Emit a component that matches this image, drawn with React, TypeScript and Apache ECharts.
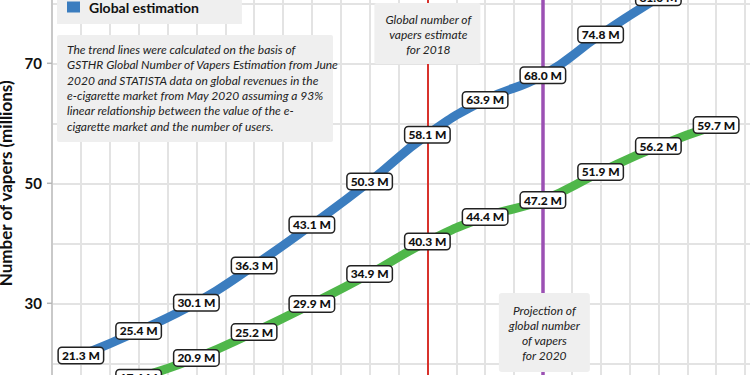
import React, { useEffect, useRef } from 'react';
import * as echarts from 'echarts';

// ---- data ----
const years = [2012, 2013, 2014, 2015, 2016, 2017, 2018, 2019, 2020, 2021, 2022, 2023];
const globalEstimation: (number | null)[] = [21.3, 25.4, 30.1, 36.3, 43.1, 50.3, 58.1, 63.9, 68.0, 74.8, 81.0, null];
const trendEstimation: (number | null)[] = [null, 17.6, 20.9, 25.2, 29.9, 34.9, 40.3, 44.4, 47.2, 51.9, 56.2, 59.7];
const estimateYear = 2018;
const projectionYear = 2020;
const yLabelValues = [30, 50, 70];

const noteText = [
  'The trend lines were calculated on the basis of',
  'GSTHR Global Number of Vapers Estimation from June',
  '2020 and STATISTA data on global revenues in the',
  'e-cigarette market from May 2020 assuming a 93%',
  'linear relationship between the value of the e-',
  'cigarette market and the number of users.',
];
const estimateNote = ['Global number of', 'vapers estimate', 'for 2018'];
const projectionNote = ['Projection of', 'global number', 'of vapers', 'for 2020'];

const FONT = 'Lato, "Open Sans", sans-serif';

function pairs(vals: (number | null)[]) {
  const out: [number, number][] = [];
  vals.forEach((v, i) => {
    if (v !== null) out.push([years[i], v]);
  });
  return out;
}

const pointLabel = {
  show: true,
  position: 'inside',
  formatter: (p: any) => p.value[1].toFixed(1) + ' M',
  color: '#111',
  fontFamily: FONT,
  fontWeight: 900,
  fontSize: 12,
  lineHeight: 12,
  backgroundColor: '#fff',
  borderColor: '#222',
  borderWidth: 1.5,
  borderRadius: 3,
  padding: [2, 3, 1, 3],
};

export default function App() {
  const ref = useRef<HTMLDivElement>(null);
  useEffect(() => {
    document.body.style.margin = '0';
    const chart = echarts.init(ref.current!, null, { renderer: 'svg' });
    const option: any = {
      animation: false,
      backgroundColor: '#fff',
      grid: {
        left: 52,
        top: -56.7,
        width: 750.75,
        height: 480,
        containLabel: false,
        outerBoundsMode: 'none',
      },
      legend: {
        data: [{ name: 'Global estimation', icon: 'rect' }],
        left: 57,
        top: -12,
        orient: 'vertical',
        backgroundColor: '#efefef',
        padding: [12, 43, 10, 10],
        itemWidth: 13,
        itemHeight: 11,
        textStyle: {
          fontFamily: FONT,
          fontWeight: 'bold',
          fontSize: 14,
          color: '#111',
          padding: [0, 0, 0, 4],
        },
        selectedMode: false,
      },
      xAxis: {
        type: 'value',
        min: 2011.5,
        max: 2024.5,
        interval: 0.5,
        axisLine: { show: false },
        axisTick: { show: false },
        axisLabel: { show: false },
        splitLine: { show: true, lineStyle: { color: '#e3e3e3', width: 2 } },
      },
      yAxis: {
        type: 'value',
        min: 10,
        max: 90,
        interval: 10,
        name: 'Number of vapers (millions)',
        nameLocation: 'middle',
        nameGap: 29,
        nameTextStyle: {
          fontFamily: FONT,
          fontWeight: 'bold',
          fontSize: 17,
          color: '#111',
        },
        axisLine: { show: true, lineStyle: { color: '#c9c9c9', width: 2 } },
        axisTick: { show: false },
        axisLabel: {
          margin: 0,
          formatter: (v: number) => (yLabelValues.includes(v) ? `{v|${v}}{g|}{t|}` : ''),
          rich: {
            v: {
              fontFamily: FONT,
              fontWeight: 'bold',
              fontSize: 15,
              color: '#111',
            },
            g: { width: 5, height: 2 },
            t: { width: 5, height: 1.5, backgroundColor: '#b5b5b5' },
          },
        },
        splitLine: { show: true, lineStyle: { color: '#e3e3e3', width: 2 } },
      },
      series: [
        {
          name: 'Trend estimation',
          type: 'line',
          data: pairs(trendEstimation),
          smooth: 0.5,
          symbol: 'circle',
          symbolSize: 1,
          itemStyle: { color: '#4fb74a' },
          lineStyle: { color: '#4fb74a', width: 9 },
          label: pointLabel,
          z: 3,
        },
        {
          name: 'Global estimation',
          type: 'line',
          data: pairs(globalEstimation),
          smooth: 0.5,
          symbol: 'circle',
          symbolSize: 1,
          itemStyle: { color: '#3b7dbf' },
          lineStyle: { color: '#3b7dbf', width: 9 },
          label: pointLabel,
          z: 3,
          markLine: {
            silent: true,
            z: 2,
            symbol: ['none', 'none'],
            label: { show: false },
            data: [
              { xAxis: estimateYear, lineStyle: { color: '#d8322c', width: 2, type: 'solid' } },
              { xAxis: projectionYear, lineStyle: { color: '#9b50b3', width: 3.5, type: 'solid' } },
            ],
          },
        },
      ],
    };
    chart.setOption(option);

    const xEst = chart.convertToPixel({ gridIndex: 0 }, [estimateYear, 70])[0];
    const xProj = chart.convertToPixel({ gridIndex: 0 }, [projectionYear, 70])[0];

    const noteStyle = {
      fontFamily: FONT,
      fontStyle: 'italic',
      fontSize: 12,
      lineHeight: 15.3,
      fill: '#222',
    };

    chart.setOption({
      graphic: [
        {
          type: 'rect',
          z: 50,
          shape: { x: 57, y: 35, width: 276, height: 107, r: 2 },
          style: { fill: '#efefef' },
        },
        {
          type: 'text',
          z: 51,
          x: 67,
          y: 42,
          style: { ...noteStyle, text: noteText.join('\n'), textAlign: 'left', textVerticalAlign: 'top' },
        },
        {
          type: 'rect',
          z: 50,
          shape: { x: xEst - 53, y: 3, width: 106, height: 61, r: 2 },
          style: { fill: '#efefef' },
        },
        {
          type: 'text',
          z: 51,
          x: xEst + 1,
          y: 11.5,
          style: { ...noteStyle, lineHeight: 15, text: estimateNote.join('\n'), textAlign: 'center', textVerticalAlign: 'top' },
        },
        {
          type: 'rect',
          z: 50,
          shape: { x: xProj - 44, y: 293, width: 91, height: 79, r: 3 },
          style: { fill: '#efefef' },
        },
        {
          type: 'text',
          z: 51,
          x: xProj + 1.5,
          y: 302.5,
          style: { ...noteStyle, lineHeight: 15, text: projectionNote.join('\n'), textAlign: 'center', textVerticalAlign: 'top' },
        },
      ],
    });

    return () => chart.dispose();
  }, []);
  return (
    <div
      ref={ref}
      style={{ position: 'fixed', left: 0, top: 0, width: 750, height: 375, background: '#fff' }}
    />
  );
}
